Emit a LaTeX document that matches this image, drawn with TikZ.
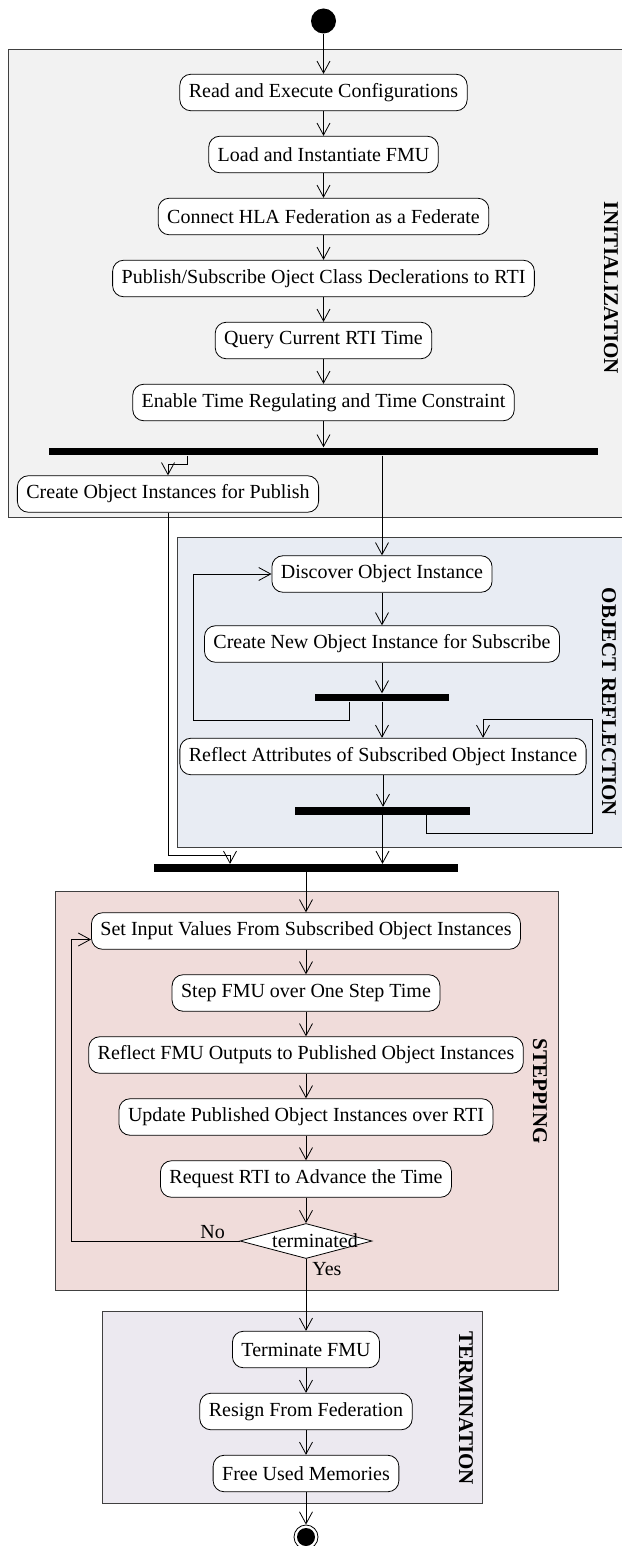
\documentclass[tikz,border=0pt]{standalone}
\usepackage{fontspec}
\setmainfont{Liberation Serif}
\usetikzlibrary{shapes.geometric,arrows.meta}

\definecolor{initgray}{HTML}{F2F2F2}
\definecolor{reflblue}{HTML}{E8ECF3}
\definecolor{steppink}{HTML}{F0DCDA}
\definecolor{termlilac}{HTML}{ECE9F0}

\begin{document}
\begin{tikzpicture}[x=1pt, y=1pt, node distance={62pt}, >={Straight Barb[length=12pt,width=13pt]}, line width=0.8pt,
  act/.style = {draw, rounded corners=11pt, fill=white, minimum height=36.5pt, inner xsep=9pt, font=\fontsize{20}{24}\selectfont},
  bar/.style = {fill=black, inner sep=0pt, minimum height=7.5pt},
  decision/.style = {draw, diamond, fill=white, inner sep=0pt, minimum width=132pt, minimum height=35pt},
  initial/.style = {circle, fill=black, inner sep=0pt, minimum size=25pt},
  final/.style = {circle, draw, inner sep=0pt, minimum size=24pt, path picture={\fill (path picture bounding box.center) circle (9pt);}},
  lane/.style = {draw=black!75, line width=1pt},
  lanename/.style = {rotate=-90, font=\fontsize{21}{24}\selectfont\bfseries},
  lbl/.style = {font=\fontsize{20}{24}\selectfont, inner sep=2pt}]
\useasboundingbox (0,0) rectangle (621,-1546);
% swimlanes
\filldraw[lane, fill=initgray] (8,-50) rectangle (630,-517);
\filldraw[lane, fill=reflblue] (177,-537) rectangle (630,-847);
\filldraw[lane, fill=steppink] (55,-891) rectangle (558,-1290);
\filldraw[lane, fill=termlilac] (102,-1311) rectangle (482,-1503);
\node[lanename] (initname) at (611,-288) {INITIALIZATION};
\node[lanename] (reflname) at (609,-702) {OBJECT REFLECTION};
\node[lanename] (stepname) at (540,-1091) {STEPPING};
\node[lanename] (termname) at (466,-1408) {TERMINATION};
% initialization
\node[initial] (start) at (323.5,-21) {};
\node[act] (read) at (323.5,-92.5) {Read and Execute Configurations};
\node[act] (load) [below of=read] {Load and Instantiate FMU};
\node[act] (connect) [below of=load] {Connect HLA Federation as a Federate};
\node[act] (pubsub) [below of=connect] {Publish/Subscribe Oject Class Declerations to RTI};
\node[act] (query) [below of=pubsub] {Query Current RTI Time};
\node[act] (enable) [below of=query] {Enable Time Regulating and Time Constraint};
\node[bar, minimum width=549pt] (fork) at (323.5,-451.5) {};
\node[act] (createpub) at (168,-494) {Create Object Instances for Publish};
% object reflection
\node[act] (discover) at (382,-574) {Discover Object Instance};
\node[act] (createsub) at (382,-644) {Create New Object Instance for Subscribe};
\node[bar, minimum width=134pt] (join1) at (382,-697.5) {};
\node[act] (reflattr) at (383,-756.5) {Reflect Attributes of Subscribed Object Instance};
\node[bar, minimum width=175pt] (join2) at (382.5,-811) {};
\node[bar, minimum width=304pt] (join3) at (306,-868) {};
% stepping
\node[act] (setin) at (306,-931) {Set Input Values From Subscribed Object Instances};
\node[act] (stepfmu) [below of=setin] {Step FMU over One Step Time};
\node[act] (reflout) [below of=stepfmu] {Reflect FMU Outputs to Published Object Instances};
\node[act] (update) [below of=reflout] {Update Published Object Instances over RTI};
\node[act] (request) [below of=update] {Request RTI to Advance the Time};
\node[decision] (done) [below of=request, label={[lbl, xshift=9pt]center:terminated}] {};
% termination
\node[act] (termfmu) at (306,-1349.5) {Terminate FMU};
\node[act] (resign) [below of=termfmu] {Resign From Federation};
\node[act] (free) [below of=resign] {Free Used Memories};
\node[final] (stop) at (306,-1537) {};

\coordinate (c1) at (187,-464);
\coordinate (c2) at (193,-720);
\coordinate (c3) at (592,-833);
\coordinate (c4) at (483,-719);
\coordinate (c5) at (230,-855);

\draw[->] (start) -- (read);
\draw[->] (read) -- (load);
\draw[->] (load) -- (connect);
\draw[->] (connect) -- (pubsub);
\draw[->] (pubsub) -- (query);
\draw[->] (query) -- (enable);
\draw[->] (enable) -- (fork);
\draw[->] (fork.south -| c1) -- (c1) -| (createpub.north);
\draw[->] (fork.south -| discover) -- (discover);
\draw[->] (discover) -- (createsub);
\draw[->] (createsub) -- (createsub |- join1.north);
\draw[->] (join1) -- (join1 |- reflattr.north);
\draw[->] ([xshift=-33pt]join1.south) |- (c2) |- (discover.west);
\draw[->] (reflattr) -- (reflattr |- join2.north);
\draw[->] ([xshift=44pt]join2.south) |- (c3) |- (c4) -- (c4 |- reflattr.north);
\draw[->] (join2) -- (join2 |- join3.north);
\draw[->] (createpub) |- (c5) -- (c5 |- join3.north);
\draw[->] (join3) -- (setin);
\draw[->] (setin) -- (stepfmu);
\draw[->] (stepfmu) -- (reflout);
\draw[->] (reflout) -- (update);
\draw[->] (update) -- (request);
\draw[->] (request) -- (done);
\draw[->] (done.west) -| node[lbl, above, pos=0.08] {No} ([xshift=-20pt,yshift=-8.5pt]setin.west) -- ([yshift=-8.5pt]setin.west);
\draw[->] (done) -- node[lbl, right, pos=0.14, xshift=4pt] {Yes} (termfmu);
\draw[->] (termfmu) -- (resign);
\draw[->] (resign) -- (free);
\draw[->] (free) -- (stop);
\end{tikzpicture}
\end{document}
